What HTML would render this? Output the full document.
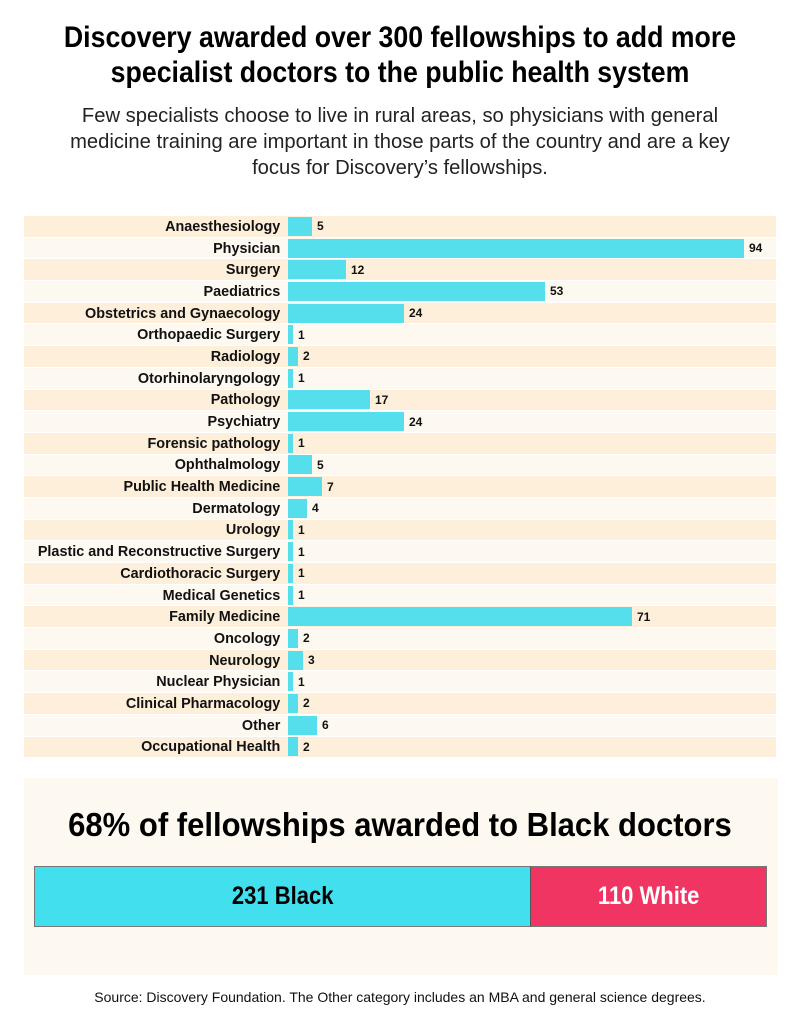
<!DOCTYPE html>
<html><head><meta charset="utf-8"><style>
body{margin:0;width:800px;height:1024px;background:#fff;font-family:"Liberation Sans",sans-serif;position:relative;overflow:hidden}
.t{position:absolute;left:0;width:800px;text-align:center}
h1{position:absolute;left:0;top:20px;width:800px;margin:0;text-align:center;font-weight:bold;font-size:30px;line-height:35px;color:#000;transform:scaleX(0.89)}
.sub{top:103px;font-size:20.2px;line-height:26px;color:#222;white-space:nowrap}
.rows{position:absolute;left:24px;top:216px;width:752px}
.r{height:20.7px;margin-bottom:1px;display:flex;align-items:center;background:#fdf8f0}
.r:nth-child(odd){background:#fdefd9}
.l{width:256px;text-align:right;font-weight:bold;font-size:15px;color:#111;padding-right:8px;white-space:nowrap;transform:scaleX(0.96);transform-origin:right center}
.b{height:19px;background:#55dfec}
.v{font-weight:bold;font-size:12px;margin-left:5px;color:#111}
.panel{position:absolute;left:24px;top:778px;width:754px;height:197px;background:#fdf8f0}
.ph{top:805px;font-weight:bold;font-size:33px;line-height:40px;transform:scaleX(0.94)}
.bar{position:absolute;top:866px;height:61px;display:flex;align-items:center;justify-content:center;font-weight:bold;font-size:25px;border:1px solid #777;box-sizing:border-box}
.bar span{display:inline-block;transform:scaleX(0.88)}
.src{top:989px;font-size:14px;color:#111}
</style></head><body>
<h1>Discovery awarded over 300 fellowships to add more<br>specialist doctors to the public health system</h1>
<div class="t sub">Few specialists choose to live in rural areas, so physicians with general<br>medicine training are important in those parts of the country and are a key<br>focus for Discovery’s fellowships.</div>
<div class="rows">
<div class="r"><div class="l">Anaesthesiology</div><div class="b" style="width:24px"></div><span class="v">5</span></div>
<div class="r"><div class="l">Physician</div><div class="b" style="width:456px"></div><span class="v">94</span></div>
<div class="r"><div class="l">Surgery</div><div class="b" style="width:58px"></div><span class="v">12</span></div>
<div class="r"><div class="l">Paediatrics</div><div class="b" style="width:257px"></div><span class="v">53</span></div>
<div class="r"><div class="l">Obstetrics and Gynaecology</div><div class="b" style="width:116px"></div><span class="v">24</span></div>
<div class="r"><div class="l">Orthopaedic Surgery</div><div class="b" style="width:5px"></div><span class="v">1</span></div>
<div class="r"><div class="l">Radiology</div><div class="b" style="width:10px"></div><span class="v">2</span></div>
<div class="r"><div class="l">Otorhinolaryngology</div><div class="b" style="width:5px"></div><span class="v">1</span></div>
<div class="r"><div class="l">Pathology</div><div class="b" style="width:82px"></div><span class="v">17</span></div>
<div class="r"><div class="l">Psychiatry</div><div class="b" style="width:116px"></div><span class="v">24</span></div>
<div class="r"><div class="l">Forensic pathology</div><div class="b" style="width:5px"></div><span class="v">1</span></div>
<div class="r"><div class="l">Ophthalmology</div><div class="b" style="width:24px"></div><span class="v">5</span></div>
<div class="r"><div class="l">Public Health Medicine</div><div class="b" style="width:34px"></div><span class="v">7</span></div>
<div class="r"><div class="l">Dermatology</div><div class="b" style="width:19px"></div><span class="v">4</span></div>
<div class="r"><div class="l">Urology</div><div class="b" style="width:5px"></div><span class="v">1</span></div>
<div class="r"><div class="l">Plastic and Reconstructive Surgery</div><div class="b" style="width:5px"></div><span class="v">1</span></div>
<div class="r"><div class="l">Cardiothoracic Surgery</div><div class="b" style="width:5px"></div><span class="v">1</span></div>
<div class="r"><div class="l">Medical Genetics</div><div class="b" style="width:5px"></div><span class="v">1</span></div>
<div class="r"><div class="l">Family Medicine</div><div class="b" style="width:344px"></div><span class="v">71</span></div>
<div class="r"><div class="l">Oncology</div><div class="b" style="width:10px"></div><span class="v">2</span></div>
<div class="r"><div class="l">Neurology</div><div class="b" style="width:15px"></div><span class="v">3</span></div>
<div class="r"><div class="l">Nuclear Physician</div><div class="b" style="width:5px"></div><span class="v">1</span></div>
<div class="r"><div class="l">Clinical Pharmacology</div><div class="b" style="width:10px"></div><span class="v">2</span></div>
<div class="r"><div class="l">Other</div><div class="b" style="width:29px"></div><span class="v">6</span></div>
<div class="r"><div class="l">Occupational Health</div><div class="b" style="width:10px"></div><span class="v">2</span></div>
</div>
<div class="panel"></div>
<div class="t ph">68% of fellowships awarded to Black doctors</div>
<div class="bar" style="left:34px;width:497px;background:#42dfee;color:#000"><span>231 Black</span></div>
<div class="bar" style="left:530px;width:237px;background:#f13562;color:#fff;border-left:1px solid #555"><span>110 White</span></div>
<div class="t src">Source: Discovery Foundation. The Other category includes an MBA and general science degrees.</div>
</body></html>
